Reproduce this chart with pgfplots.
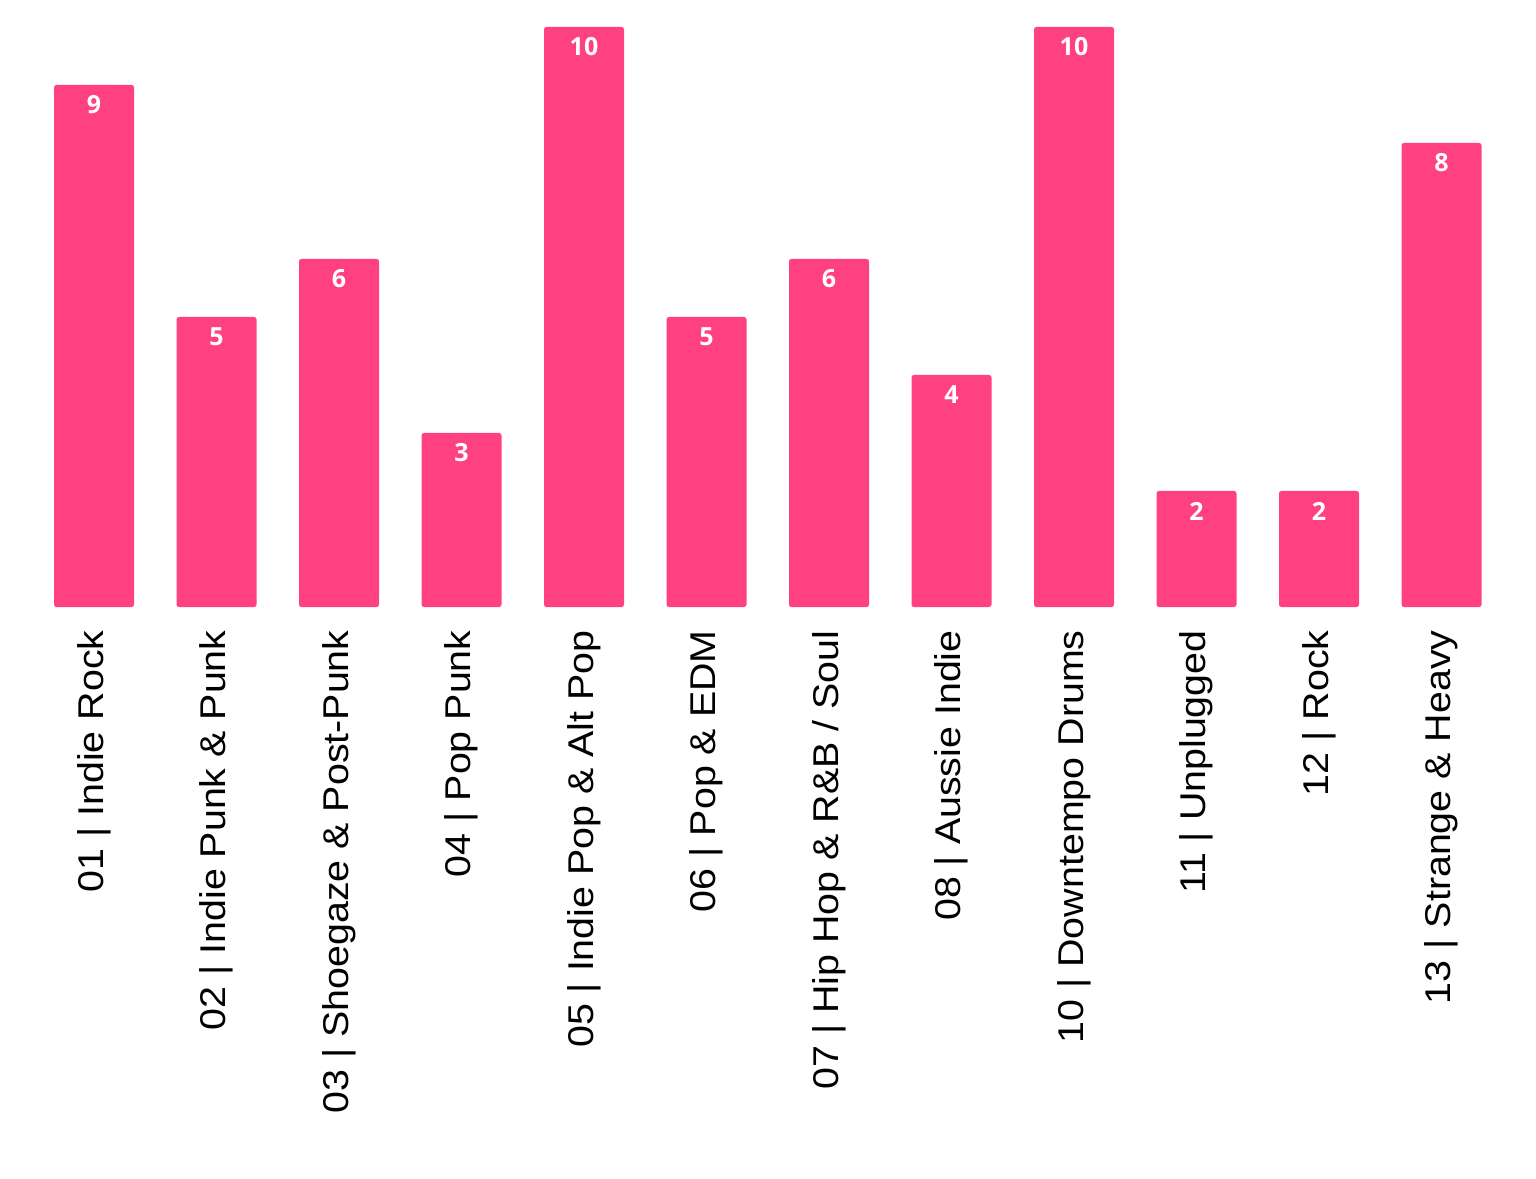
\documentclass[border=0pt]{standalone}
\usepackage{pgfplots}
\pgfplotsset{compat=1.18}
\usepackage{fontspec}
\setmainfont{Liberation Sans}[FakeStretch=1.1]
\newfontfamily\valfont{Open Sans}
\definecolor{barpink}{HTML}{FF4081}
\begin{document}
\begin{tikzpicture}[x=1pt,y=1pt]
\path[use as bounding box] (0,0) rectangle (768,589);
\begin{axis}[
  at={(16.375pt,285.5pt)}, anchor=south west,
  scale only axis, width=735pt, height=290pt,
  xmin=-0.5, xmax=11.5, ymin=0, ymax=10,
  axis line style={draw=none},
  clip=false,
  xtick={0,...,11},
  ytick=\empty,
  xticklabels={01 | Indie Rock, 02 | Indie Punk \& Punk, 03 | Shoegaze \& Post-Punk, 04 | Pop Punk, 05 | Indie Pop \& Alt Pop, 06 | Pop \& EDM, 07 | Hip Hop \& R\&B / Soul, 08 | Aussie Indie, 10 | Downtempo Drums, 11 | Unplugged, 12 | Rock, 13 | Strange \& Heavy},
  xticklabel style={rotate=90, anchor=east, font=\fontsize{17.9}{20}\selectfont, inner sep=0pt},
  xticklabel shift=11.5pt,
  major tick length=0pt,
  tick style={draw=none},
  /pgf/number format/assume math mode=true,
  ybar, bar width=40pt,
  nodes near coords,
  nodes near coords style={anchor=center, yshift=-10pt, text=white, font=\valfont\bfseries\fontsize{12.5}{14}\selectfont},
]
\addplot[fill=barpink, draw=none, rounded corners=1.2pt] coordinates {
(0,9) (1,5) (2,6) (3,3) (4,10) (5,5) (6,6) (7,4) (8,10) (9,2) (10,2) (11,8)
};
\end{axis}
\end{tikzpicture}
\end{document}
